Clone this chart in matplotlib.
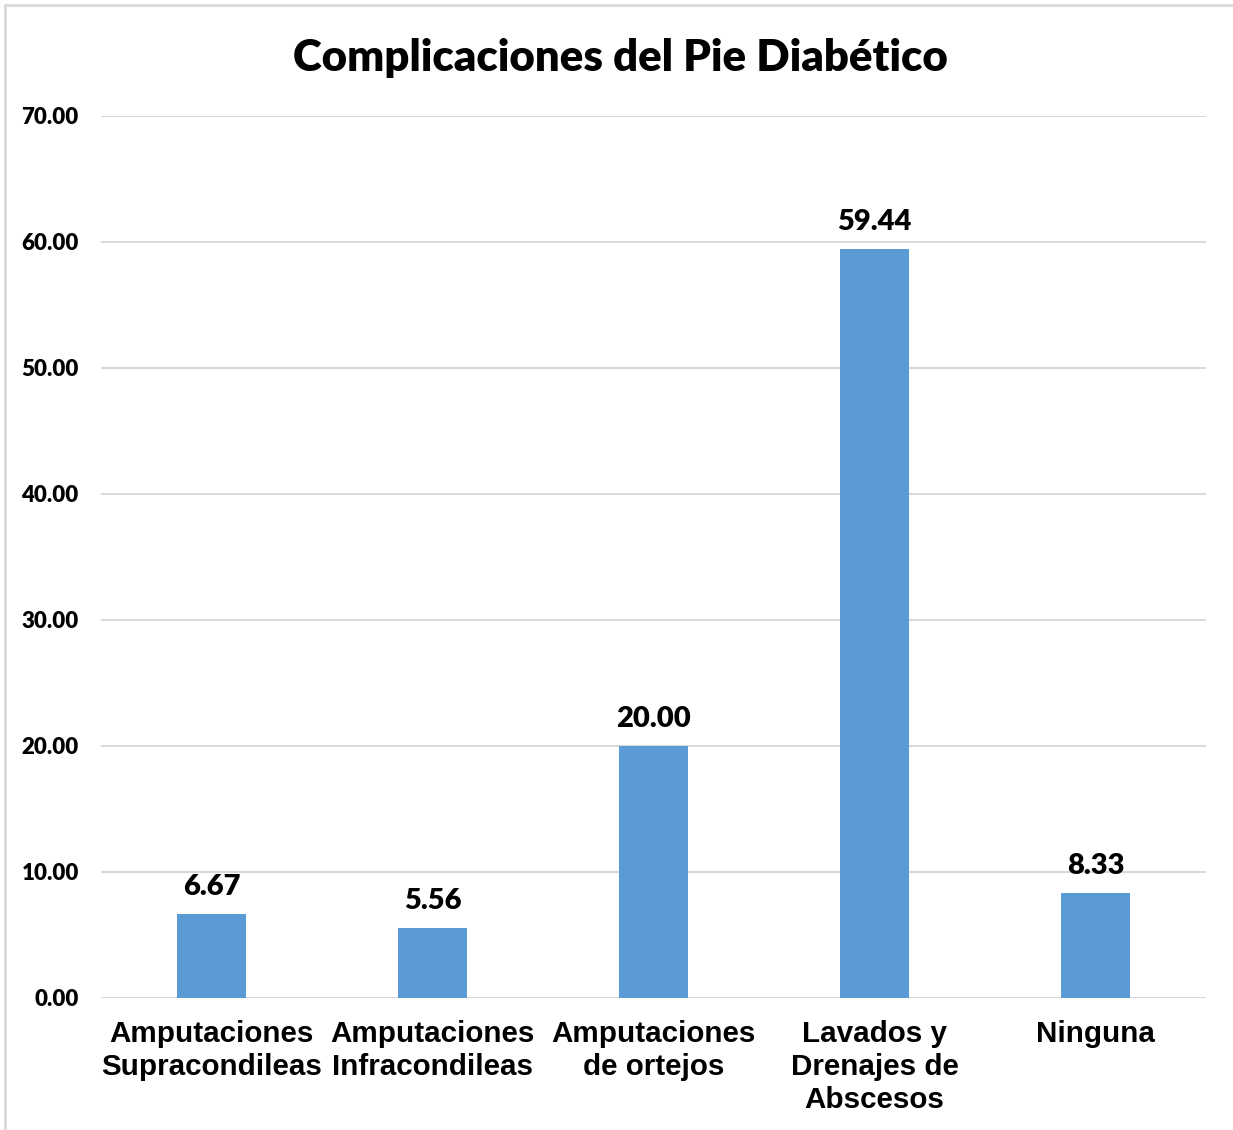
import matplotlib
matplotlib.use("Agg")
import matplotlib.pyplot as plt
from matplotlib.patches import Rectangle

categories = ["Amputaciones\nSupracondileas", "Amputaciones\nInfracondileas",
              "Amputaciones\nde ortejos", "Lavados y\nDrenajes de\nAbscesos", "Ninguna"]
values = [6.67, 5.56, 20.00, 59.44, 8.33]
yticks = [0, 10, 20, 30, 40, 50, 60, 70]
title = "Complicaciones del Pie Diabético"

W, H = 1233, 1130
fig = plt.figure(figsize=(W / 100, H / 100), dpi=100)
fig.patch.set_facecolor("white")
fig.patches.append(Rectangle((5 / W, -0.05), 1.1, 1 - 5 / H + 0.05, transform=fig.transFigure,
                             fill=False, edgecolor="#d9d9d9", linewidth=2, figure=fig))

ax = fig.add_axes([101 / W, (H - 998) / H, (1206 - 101) / W, (998 - 116) / H])
x = list(range(len(categories)))
ax.bar(x, values, width=0.312, color="#5B9BD5", zorder=3)
ax.set_xlim(-0.5, len(categories) - 0.5)
ax.set_ylim(0, 70)
ax.set_yticks(yticks)
ax.set_yticklabels([f"{v:.2f}" for v in yticks], fontfamily="Lato", fontweight="heavy", fontsize=16)
ax.set_xticks(x)
ax.set_xticklabels(categories, fontfamily="Liberation Sans", fontweight="bold", fontsize=21.3,
                   linespacing=1.23, va="top")
ax.tick_params(axis="both", length=0)
ax.tick_params(axis="y", pad=16)
ax.tick_params(axis="x", pad=16)
ax.grid(axis="y", color="#d9d9d9", linewidth=1.5, zorder=0)
for s in ax.spines.values():
    s.set_visible(False)

for xi, v in zip(x, values):
    ax.annotate(f"{v:.2f}", (xi, v), xytext=(0, 10), textcoords="offset points",
                ha="center", va="bottom", fontfamily="Lato", fontweight="heavy", fontsize=21)

fig.text(620 / W, 1 - 58 / H, title, ha="center", va="center", fontfamily="Lato",
         fontweight="heavy", fontsize=31.5)

fig.savefig("out.png", dpi=100)
